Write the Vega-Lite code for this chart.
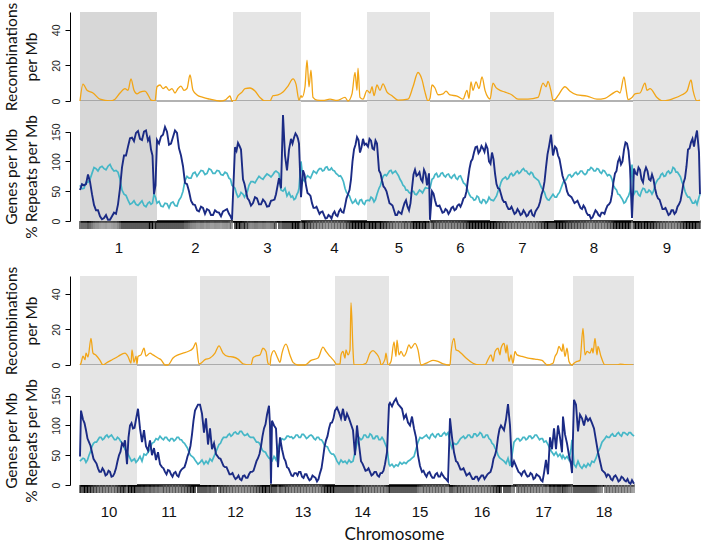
{
"$schema": "https://vega.github.io/schema/vega-lite/v6.json",
"padding": {"left": 4, "top": 2, "right": 8, "bottom": 4},
"background": "white",
"spacing": 0,
"bounds": "flush",
"resolve": {"scale": {"x": "independent", "y": "independent", "color": "independent"}},
"config": {
 "view": {"stroke": null},
 "axis": {"grid": false, "labelFont": "Liberation Sans", "titleFont": "Lato", "titleFontWeight": "normal", "labelColor": "#222", "titleColor": "#111", "domainColor": "#000", "tickColor": "#000"}
},
"datasets": {
"chrA": [{"chr":1,"p":0,"p2":38.5},{"chr":2,"p":38.5,"p2":76.5},{"chr":3,"p":76.5,"p2":110.5},{"chr":4,"p":110.5,"p2":143.5},{"chr":5,"p":143.5,"p2":175},{"chr":6,"p":175,"p2":205},{"chr":7,"p":205,"p2":237},{"chr":8,"p":237,"p2":276.5},{"chr":9,"p":276.5,"p2":310}],
"chrB": [{"chr":10,"p":0,"p2":28.5},{"chr":11,"p":28.5,"p2":60},{"chr":12,"p":60,"p2":95},{"chr":13,"p":95,"p2":127.5},{"chr":14,"p":127.5,"p2":154.5},{"chr":15,"p":154.5,"p2":185},{"chr":16,"p":185,"p2":216.5},{"chr":17,"p":216.5,"p2":246.5},{"chr":18,"p":246.5,"p2":277}],
"genesA": [
{"p":0,"g":52,"r":60},{"p":2,"g":60,"r":55},{"p":4,"g":78,"r":65},{"p":6,"g":45,"r":80},{"p":8,"g":18,"r":88},{"p":10,"g":8,"r":90},{"p":12,"g":5,"r":88},{"p":14,"g":2,"r":92},{"p":16,"g":8,"r":88},{"p":18,"g":12,"r":85},{"p":20,"g":55,"r":70},{"p":22,"g":110,"r":45},{"p":24,"g":125,"r":35},{"p":26,"g":140,"r":30},{"p":28,"g":148,"r":28},{"p":30,"g":138,"r":30},{"p":32,"g":150,"r":26},{"p":34,"g":135,"r":30},{"p":35.5,"g":120,"r":28},{"p":37,"g":45,"r":45},
{"p":38.5,"g":136,"r":30},{"p":40.5,"g":142,"r":25},{"p":42.5,"g":158,"r":30},{"p":44.5,"g":128,"r":22},{"p":46.5,"g":141,"r":32},{"p":48.5,"g":148,"r":25},{"p":50.5,"g":110,"r":40},{"p":52.5,"g":64,"r":68},{"p":54.5,"g":50,"r":72},{"p":56.5,"g":28,"r":80},{"p":58.5,"g":18,"r":75},{"p":60.5,"g":24,"r":85},{"p":62.5,"g":12,"r":78},{"p":64.5,"g":18,"r":88},{"p":66.5,"g":10,"r":80},{"p":68.5,"g":15,"r":85},{"p":70.5,"g":8,"r":78},{"p":72.5,"g":18,"r":82},{"p":74.5,"g":12,"r":72},{"p":76,"g":2,"r":60},
{"p":77.5,"g":124,"r":55},{"p":79,"g":131,"r":40},{"p":80.5,"g":120,"r":48},{"p":81.5,"g":70,"r":45},{"p":83,"g":50,"r":45},{"p":84.5,"g":35,"r":60},{"p":86.5,"g":30,"r":66},{"p":88.5,"g":38,"r":70},{"p":90.5,"g":28,"r":72},{"p":92.5,"g":32,"r":75},{"p":94.5,"g":25,"r":77},{"p":96.5,"g":35,"r":78},{"p":98,"g":45,"r":84},{"p":99.5,"g":72,"r":80},{"p":100.5,"g":55,"r":52},{"p":101.5,"g":178,"r":50},{"p":102.5,"g":110,"r":55},{"p":103.5,"g":85,"r":42},{"p":104.5,"g":120,"r":48},{"p":105.5,"g":138,"r":40},{"p":107,"g":140,"r":36},{"p":108.5,"g":143,"r":45},{"p":109.5,"g":130,"r":55},{"p":110.5,"g":40,"r":100},
{"p":111.5,"g":85,"r":70},{"p":113,"g":60,"r":72},{"p":114.5,"g":45,"r":74},{"p":116,"g":30,"r":78},{"p":117.5,"g":22,"r":82},{"p":119,"g":18,"r":85},{"p":120.5,"g":15,"r":88},{"p":122,"g":10,"r":85},{"p":123.5,"g":5,"r":91},{"p":125,"g":8,"r":86},{"p":126.5,"g":12,"r":85},{"p":128,"g":10,"r":80},{"p":129.5,"g":16,"r":75},{"p":131,"g":15,"r":72},{"p":132.5,"g":25,"r":55},{"p":134,"g":45,"r":45},{"p":135.5,"g":70,"r":35},{"p":137,"g":120,"r":32},{"p":138.5,"g":141,"r":30},{"p":140,"g":115,"r":35},{"p":141.5,"g":138,"r":30},{"p":143,"g":130,"r":34},
{"p":144,"g":125,"r":35},{"p":145.5,"g":135,"r":40},{"p":147,"g":120,"r":32},{"p":148.5,"g":130,"r":45},{"p":149.5,"g":85,"r":55},{"p":151,"g":68,"r":70},{"p":152.5,"g":55,"r":78},{"p":154,"g":40,"r":80},{"p":155.5,"g":28,"r":85},{"p":157,"g":18,"r":82},{"p":158.5,"g":10,"r":80},{"p":160,"g":14,"r":70},{"p":161.5,"g":22,"r":60},{"p":163,"g":35,"r":52},{"p":164.5,"g":18,"r":48},{"p":166,"g":55,"r":50},{"p":167.5,"g":86,"r":45},{"p":169,"g":78,"r":48},{"p":170.5,"g":70,"r":50},{"p":172,"g":86,"r":52},{"p":173.5,"g":60,"r":55},{"p":174.5,"g":80,"r":55},{"p":175,"g":2,"r":55},
{"p":176,"g":50,"r":70},{"p":177.5,"g":35,"r":78},{"p":179,"g":25,"r":74},{"p":180.5,"g":20,"r":80},{"p":182,"g":15,"r":76},{"p":183.5,"g":18,"r":78},{"p":185,"g":16,"r":74},{"p":186.5,"g":24,"r":76},{"p":188,"g":20,"r":72},{"p":189.5,"g":28,"r":75},{"p":191,"g":30,"r":70},{"p":192.5,"g":40,"r":62},{"p":194,"g":70,"r":50},{"p":195.5,"g":100,"r":40},{"p":197,"g":115,"r":35},{"p":198.5,"g":125,"r":42},{"p":200,"g":118,"r":32},{"p":201.5,"g":122,"r":36},{"p":203,"g":128,"r":30},{"p":204.5,"g":100,"r":40},
{"p":206,"g":115,"r":35},{"p":207.5,"g":80,"r":38},{"p":209,"g":55,"r":50},{"p":210.5,"g":45,"r":65},{"p":212,"g":32,"r":72},{"p":213.5,"g":25,"r":70},{"p":215,"g":20,"r":78},{"p":216.5,"g":18,"r":76},{"p":218,"g":14,"r":82},{"p":219.5,"g":16,"r":80},{"p":221,"g":12,"r":86},{"p":222.5,"g":14,"r":84},{"p":224,"g":10,"r":80},{"p":225.5,"g":18,"r":82},{"p":227,"g":8,"r":74},{"p":228.5,"g":20,"r":70},{"p":230,"g":32,"r":62},{"p":231.5,"g":52,"r":52},{"p":233,"g":90,"r":40},{"p":234.5,"g":125,"r":35},{"p":235.5,"g":145,"r":40},{"p":236.5,"g":110,"r":45},
{"p":237.5,"g":125,"r":40},{"p":239,"g":110,"r":45},{"p":240.5,"g":90,"r":55},{"p":242,"g":68,"r":68},{"p":243.5,"g":50,"r":72},{"p":245,"g":42,"r":78},{"p":246.5,"g":35,"r":76},{"p":248,"g":32,"r":82},{"p":249.5,"g":28,"r":80},{"p":251,"g":20,"r":84},{"p":252.5,"g":22,"r":78},{"p":254,"g":10,"r":86},{"p":255.5,"g":4,"r":90},{"p":257,"g":12,"r":84},{"p":258.5,"g":15,"r":88},{"p":260,"g":8,"r":82},{"p":261.5,"g":14,"r":85},{"p":263,"g":20,"r":80},{"p":264.5,"g":28,"r":78},{"p":266,"g":45,"r":70},{"p":267.5,"g":80,"r":55},{"p":269,"g":100,"r":45},{"p":270.5,"g":95,"r":40},{"p":272,"g":120,"r":30},{"p":273.5,"g":130,"r":38},{"p":275,"g":90,"r":50},{"p":276,"g":5,"r":95},
{"p":277,"g":88,"r":45},{"p":278.5,"g":78,"r":50},{"p":280,"g":86,"r":42},{"p":281.5,"g":65,"r":55},{"p":283,"g":90,"r":48},{"p":284.5,"g":70,"r":52},{"p":286,"g":78,"r":45},{"p":287.5,"g":55,"r":60},{"p":289,"g":38,"r":70},{"p":290.5,"g":28,"r":78},{"p":292,"g":20,"r":75},{"p":293.5,"g":16,"r":82},{"p":295,"g":12,"r":80},{"p":296.5,"g":18,"r":90},{"p":298,"g":15,"r":82},{"p":299.5,"g":28,"r":78},{"p":301,"g":48,"r":65},{"p":302.5,"g":72,"r":50},{"p":304,"g":120,"r":40},{"p":305.5,"g":132,"r":35},{"p":307,"g":125,"r":30},{"p":308.5,"g":152,"r":28},{"p":309.5,"g":115,"r":40},{"p":310,"g":45,"r":45},
{"p":1,"g":62,"r":54},{"p":3,"g":62,"r":65},{"p":5,"g":66,"r":70},{"p":7,"g":27,"r":90},{"p":9,"g":18,"r":84},{"p":11,"g":3,"r":92},{"p":13,"g":10,"r":86},{"p":15,"g":2,"r":95},{"p":17,"g":14,"r":84},{"p":19,"g":28,"r":82},{"p":21,"g":90,"r":52},{"p":23,"g":110,"r":43},{"p":25,"g":139,"r":28},{"p":27,"g":134,"r":34},{"p":29,"g":151,"r":26},{"p":31,"g":136,"r":34},{"p":33,"g":152,"r":24},{"p":34.75,"g":140,"r":32},{"p":36.25,"g":110,"r":30},{"p":37.75,"g":60,"r":40},
{"p":39.5,"g":130,"r":33},{"p":41.5,"g":145,"r":24},{"p":43.5,"g":150,"r":29},{"p":45.5,"g":130,"r":30},{"p":47.5,"g":152,"r":26},{"p":49.5,"g":122,"r":35},{"p":51.5,"g":92,"r":50},{"p":53.5,"g":62,"r":75},{"p":55.5,"g":34,"r":72},{"p":57.5,"g":27,"r":82},{"p":59.5,"g":16,"r":80},{"p":61.5,"g":22,"r":84},{"p":63.5,"g":20,"r":80},{"p":65.5,"g":10,"r":86},{"p":67.5,"g":18,"r":80},{"p":69.5,"g":14,"r":84},{"p":71.5,"g":16,"r":77},{"p":73.5,"g":20,"r":80},{"p":75.25,"g":8,"r":70},
{"p":78.25,"g":118,"r":46},{"p":79.75,"g":126,"r":42},{"p":82.25,"g":62,"r":40},{"p":83.75,"g":38,"r":50},{"p":85.5,"g":26,"r":66},{"p":87.5,"g":40,"r":64},{"p":89.5,"g":28,"r":75},{"p":91.5,"g":36,"r":70},{"p":93.5,"g":24,"r":79},{"p":95.5,"g":34,"r":74},{"p":97.25,"g":36,"r":82},{"p":106.25,"g":130,"r":42},{"p":107.75,"g":147,"r":38},{"p":109,"g":138,"r":48},
{"p":112.25,"g":78,"r":67},{"p":113.75,"g":47,"r":76},{"p":115.25,"g":42,"r":72},{"p":116.75,"g":22,"r":84},{"p":118.25,"g":24,"r":80},{"p":119.75,"g":12,"r":88},{"p":121.25,"g":16,"r":84},{"p":122.75,"g":4,"r":90},{"p":124.25,"g":10,"r":86},{"p":125.75,"g":4,"r":89},{"p":127.25,"g":16,"r":84},{"p":128.75,"g":8,"r":78},{"p":130.25,"g":20,"r":76},{"p":131.75,"g":14,"r":66},{"p":133.25,"g":38,"r":48},{"p":134.75,"g":52,"r":42},{"p":136.25,"g":100,"r":30},{"p":137.75,"g":128,"r":36},{"p":139.25,"g":136,"r":28},{"p":140.75,"g":124,"r":36},{"p":142.25,"g":128,"r":28},
{"p":144.75,"g":138,"r":34},{"p":146.25,"g":122,"r":38},{"p":147.75,"g":135,"r":36},{"p":150.25,"g":80,"r":60},{"p":151.75,"g":58,"r":76},{"p":153.25,"g":50,"r":76},{"p":154.75,"g":30,"r":84},{"p":156.25,"g":26,"r":80},{"p":157.75,"g":10,"r":84},{"p":159.25,"g":16,"r":76},{"p":160.75,"g":12,"r":66},{"p":162.25,"g":30,"r":58},{"p":163.75,"g":24,"r":52},{"p":165.25,"g":30,"r":46},{"p":166.75,"g":78,"r":50},{"p":168.25,"g":76,"r":44},{"p":169.75,"g":82,"r":52},{"p":171.25,"g":66,"r":47},{"p":172.75,"g":80,"r":56},
{"p":176.75,"g":46,"r":72},{"p":178.25,"g":26,"r":80},{"p":179.75,"g":26,"r":75},{"p":181.25,"g":14,"r":81},{"p":182.75,"g":20,"r":74},{"p":184.25,"g":12,"r":79},{"p":185.75,"g":22,"r":72},{"p":187.25,"g":18,"r":78},{"p":188.75,"g":26,"r":70},{"p":190.25,"g":24,"r":76},{"p":191.75,"g":38,"r":64},{"p":193.25,"g":50,"r":58},{"p":194.75,"g":88,"r":44},{"p":196.25,"g":104,"r":39},{"p":197.75,"g":124,"r":36},{"p":199.25,"g":114,"r":40},{"p":200.75,"g":126,"r":30},{"p":202.25,"g":116,"r":35},{"p":203.75,"g":122,"r":33},
{"p":205.25,"g":96,"r":36},{"p":206.75,"g":104,"r":34},{"p":208.25,"g":62,"r":42},{"p":209.75,"g":54,"r":56},{"p":211.25,"g":36,"r":70},{"p":212.75,"g":32,"r":74},{"p":214.25,"g":20,"r":72},{"p":215.75,"g":24,"r":80},{"p":217.25,"g":12,"r":78},{"p":218.75,"g":20,"r":84},{"p":220.25,"g":10,"r":82},{"p":221.75,"g":18,"r":88},{"p":223.25,"g":8,"r":84},{"p":224.75,"g":16,"r":78},{"p":226.25,"g":10,"r":80},{"p":227.75,"g":16,"r":72},{"p":229.25,"g":24,"r":68},{"p":230.75,"g":44,"r":56},{"p":232.25,"g":66,"r":48},{"p":233.75,"g":112,"r":36},
{"p":238.25,"g":122,"r":40},{"p":239.75,"g":104,"r":48},{"p":241.25,"g":76,"r":62},{"p":242.75,"g":62,"r":68},{"p":244.25,"g":44,"r":77},{"p":245.75,"g":40,"r":74},{"p":247.25,"g":30,"r":80},{"p":248.75,"g":34,"r":78},{"p":250.25,"g":22,"r":84},{"p":251.75,"g":26,"r":80},{"p":253.25,"g":14,"r":80},{"p":254.75,"g":10,"r":86},{"p":256.25,"g":6,"r":88},{"p":257.75,"g":18,"r":84},{"p":259.25,"g":10,"r":87},{"p":260.75,"g":14,"r":80},{"p":262.25,"g":12,"r":84},{"p":263.75,"g":26,"r":76},{"p":265.25,"g":32,"r":76},{"p":266.75,"g":66,"r":60},{"p":268.25,"g":84,"r":52},{"p":269.75,"g":106,"r":44},{"p":271.25,"g":100,"r":36},{"p":272.75,"g":132,"r":32},{"p":274.25,"g":118,"r":42},
{"p":277.75,"g":80,"r":50},{"p":279.25,"g":90,"r":44},{"p":280.75,"g":70,"r":50},{"p":282.25,"g":82,"r":54},{"p":283.75,"g":84,"r":48},{"p":285.25,"g":68,"r":50},{"p":286.75,"g":70,"r":50},{"p":288.25,"g":44,"r":66},{"p":289.75,"g":36,"r":72},{"p":291.25,"g":20,"r":80},{"p":292.75,"g":22,"r":76},{"p":294.25,"g":10,"r":84},{"p":295.75,"g":18,"r":82},{"p":297.25,"g":12,"r":88},{"p":298.75,"g":24,"r":82},{"p":300.25,"g":34,"r":74},{"p":301.75,"g":64,"r":60},{"p":303.25,"g":92,"r":44},{"p":304.75,"g":122,"r":40},{"p":306.25,"g":138,"r":30},{"p":307.75,"g":140,"r":34}
],
"recA": [
{"p":0,"c":0},{"p":1.5,"c":9.5},{"p":3.5,"c":6},{"p":6.5,"c":4.5},{"p":10,"c":1},{"p":15,"c":0},{"p":17.5,"c":1},{"p":20,"c":4.5},{"p":22.5,"c":7},{"p":24,"c":6},{"p":25.5,"c":12.4},{"p":27,"c":6},{"p":28.5,"c":4},{"p":30,"c":5},{"p":32.5,"c":5.6},{"p":34,"c":3.5},{"p":35.5,"c":0.5},{"p":37.5,"c":0},
{"p":38.5,"c":8},{"p":40,"c":9},{"p":41.5,"c":7},{"p":43,"c":8},{"p":44.5,"c":6},{"p":46,"c":7},{"p":47.5,"c":4.5},{"p":49,"c":7},{"p":50.5,"c":8.4},{"p":52,"c":6},{"p":53.5,"c":7},{"p":55,"c":14.6},{"p":56.5,"c":6},{"p":58.5,"c":3.4},{"p":61.5,"c":2},{"p":65,"c":1},{"p":70,"c":0},{"p":72.5,"c":0.5},{"p":74,"c":2},{"p":75,"c":2.8},{"p":76,"c":0},
{"p":77.5,"c":0},{"p":79,"c":3},{"p":81,"c":5},{"p":82.5,"c":7},{"p":85,"c":7.3},{"p":87.5,"c":5.6},{"p":90,"c":2},{"p":92.5,"c":0},{"p":95,"c":0},{"p":96.5,"c":3},{"p":99,"c":3.4},{"p":101.5,"c":5},{"p":104,"c":8.4},{"p":106.5,"c":12.4},{"p":108,"c":9.5},{"p":109.5,"c":0.5},{"p":110.5,"c":3},
{"p":111,"c":2},{"p":112.5,"c":8},{"p":113.5,"c":23},{"p":114.5,"c":8},{"p":115.5,"c":17.4},{"p":116.5,"c":2},{"p":118.5,"c":0.5},{"p":121.5,"c":0.3},{"p":125,"c":1},{"p":128.5,"c":0.3},{"p":132.5,"c":2},{"p":134,"c":0},{"p":136,"c":4},{"p":137.5,"c":16},{"p":138.5,"c":6},{"p":139,"c":18.5},{"p":140,"c":2},{"p":141.5,"c":1},{"p":143.5,"c":6},
{"p":145,"c":4.5},{"p":146,"c":8},{"p":147,"c":3},{"p":148.5,"c":9},{"p":150,"c":6},{"p":151.5,"c":9.6},{"p":153.5,"c":5},{"p":156,"c":3},{"p":159,"c":0.5},{"p":164,"c":1},{"p":166.5,"c":8},{"p":169,"c":16},{"p":171,"c":12},{"p":172.5,"c":5},{"p":174,"c":0},
{"p":175,"c":1.5},{"p":176,"c":9},{"p":177.5,"c":7.3},{"p":179,"c":3.5},{"p":181.5,"c":4},{"p":183,"c":5.5},{"p":185,"c":3.4},{"p":188.5,"c":2.8},{"p":191.5,"c":1},{"p":193.5,"c":6},{"p":194.5,"c":1.5},{"p":195.5,"c":10.7},{"p":196.5,"c":6},{"p":198,"c":10.7},{"p":199.5,"c":7},{"p":201,"c":13.5},{"p":202.5,"c":6},{"p":204,"c":2},{"p":205,"c":1},
{"p":206.5,"c":10},{"p":208,"c":7.5},{"p":210,"c":6},{"p":212.5,"c":5},{"p":216,"c":3.4},{"p":219,"c":1},{"p":224,"c":1},{"p":229,"c":2},{"p":231.5,"c":10},{"p":233,"c":8},{"p":234,"c":11},{"p":235.5,"c":5.5},{"p":236.5,"c":0.5},
{"p":237.5,"c":0.8},{"p":239,"c":3},{"p":242.5,"c":8},{"p":245,"c":5.5},{"p":248.5,"c":3.4},{"p":253.5,"c":2.8},{"p":258.5,"c":1},{"p":262.5,"c":1.5},{"p":266,"c":4},{"p":268.5,"c":5.5},{"p":270,"c":4.5},{"p":272,"c":13.5},{"p":273,"c":7},{"p":274,"c":0.8},{"p":276,"c":2},
{"p":277.5,"c":4},{"p":280,"c":4.5},{"p":282.5,"c":10},{"p":283.5,"c":6},{"p":285,"c":7},{"p":288.5,"c":2},{"p":291.5,"c":0},{"p":296.5,"c":1.3},{"p":301,"c":3.5},{"p":303.5,"c":5.5},{"p":305.5,"c":11.8},{"p":306.5,"c":6},{"p":308.5,"c":0},{"p":310,"c":0.5}
],
"genesB": [
{"p":0,"g":48,"r":40},{"p":0.5,"g":125,"r":42},{"p":1.5,"g":110,"r":45},{"p":3,"g":92,"r":38},{"p":4.5,"g":72,"r":50},{"p":6,"g":55,"r":65},{"p":7.5,"g":40,"r":72},{"p":9,"g":28,"r":76},{"p":10.5,"g":22,"r":80},{"p":12,"g":24,"r":78},{"p":13.5,"g":18,"r":84},{"p":15,"g":22,"r":82},{"p":16.5,"g":15,"r":80},{"p":18,"g":28,"r":76},{"p":19.5,"g":50,"r":78},{"p":21,"g":70,"r":70},{"p":22.5,"g":75,"r":60},{"p":23.5,"g":35,"r":55},{"p":25,"g":100,"r":45},{"p":26.5,"g":95,"r":42},{"p":28,"g":110,"r":38},
{"p":29,"g":128,"r":42},{"p":30,"g":95,"r":48},{"p":31,"g":72,"r":40},{"p":32,"g":92,"r":52},{"p":33,"g":65,"r":50},{"p":34,"g":58,"r":55},{"p":35,"g":75,"r":60},{"p":36,"g":50,"r":70},{"p":37,"g":62,"r":72},{"p":38,"g":42,"r":78},{"p":39,"g":55,"r":76},{"p":40,"g":35,"r":82},{"p":41,"g":30,"r":78},{"p":42.5,"g":22,"r":80},{"p":44,"g":25,"r":76},{"p":45.5,"g":18,"r":78},{"p":47,"g":20,"r":74},{"p":48.5,"g":16,"r":80},{"p":50,"g":22,"r":76},{"p":51.5,"g":28,"r":72},{"p":53,"g":38,"r":66},{"p":54.5,"g":55,"r":55},{"p":56,"g":85,"r":48},{"p":57.5,"g":125,"r":42},{"p":59,"g":135,"r":35},
{"p":60,"g":135,"r":38},{"p":61,"g":120,"r":42},{"p":62,"g":88,"r":35},{"p":63,"g":112,"r":40},{"p":64,"g":68,"r":36},{"p":65,"g":95,"r":44},{"p":66,"g":60,"r":40},{"p":67,"g":70,"r":48},{"p":68,"g":52,"r":56},{"p":69.5,"g":45,"r":68},{"p":71,"g":38,"r":76},{"p":72.5,"g":30,"r":80},{"p":74,"g":24,"r":84},{"p":75.5,"g":18,"r":82},{"p":77,"g":14,"r":88},{"p":78.5,"g":12,"r":86},{"p":80,"g":10,"r":90},{"p":81.5,"g":15,"r":86},{"p":83,"g":12,"r":84},{"p":84.5,"g":18,"r":82},{"p":86,"g":22,"r":80},{"p":87.5,"g":32,"r":76},{"p":89,"g":45,"r":72},{"p":90.5,"g":65,"r":64},{"p":92,"g":95,"r":56},{"p":93.5,"g":118,"r":50},{"p":94.5,"g":133,"r":45},
{"p":95,"g":100,"r":45},{"p":95.5,"g":2,"r":40},{"p":96,"g":108,"r":40},{"p":97,"g":100,"r":48},{"p":98,"g":95,"r":42},{"p":99,"g":30,"r":60},{"p":100,"g":80,"r":72},{"p":101,"g":60,"r":78},{"p":102,"g":45,"r":76},{"p":103.5,"g":30,"r":82},{"p":105,"g":22,"r":80},{"p":106.5,"g":15,"r":78},{"p":108,"g":20,"r":84},{"p":109.5,"g":22,"r":80},{"p":111,"g":14,"r":85},{"p":112.5,"g":18,"r":82},{"p":114,"g":12,"r":80},{"p":115.5,"g":10,"r":84},{"p":117,"g":14,"r":78},{"p":118.5,"g":6,"r":80},{"p":120,"g":20,"r":76},{"p":121.5,"g":45,"r":72},{"p":123,"g":75,"r":65},{"p":124.5,"g":95,"r":58},{"p":126,"g":105,"r":52},{"p":127.5,"g":125,"r":48},
{"p":128.5,"g":130,"r":40},{"p":129.5,"g":122,"r":35},{"p":130.5,"g":112,"r":42},{"p":131.5,"g":128,"r":38},{"p":132.5,"g":108,"r":40},{"p":133.5,"g":120,"r":36},{"p":134.5,"g":112,"r":42},{"p":135.5,"g":102,"r":38},{"p":136.5,"g":92,"r":40},{"p":137.5,"g":50,"r":55},{"p":138.5,"g":100,"r":70},{"p":139.5,"g":68,"r":80},{"p":140.5,"g":40,"r":76},{"p":142,"g":30,"r":84},{"p":143.5,"g":25,"r":80},{"p":145,"g":22,"r":86},{"p":146.5,"g":18,"r":78},{"p":148,"g":22,"r":82},{"p":149.5,"g":14,"r":76},{"p":151,"g":20,"r":80},{"p":152.5,"g":35,"r":70},{"p":153.5,"g":55,"r":62},{"p":154.5,"g":135,"r":35},
{"p":155,"g":138,"r":32},{"p":156,"g":132,"r":35},{"p":157,"g":140,"r":30},{"p":158,"g":145,"r":34},{"p":159,"g":136,"r":32},{"p":160,"g":132,"r":38},{"p":161,"g":128,"r":35},{"p":162,"g":112,"r":38},{"p":163,"g":118,"r":36},{"p":164,"g":105,"r":40},{"p":165,"g":100,"r":42},{"p":166,"g":115,"r":45},{"p":167,"g":95,"r":48},{"p":168,"g":80,"r":60},{"p":169,"g":50,"r":72},{"p":170,"g":32,"r":80},{"p":171,"g":22,"r":78},{"p":172.5,"g":18,"r":82},{"p":174,"g":20,"r":80},{"p":175.5,"g":16,"r":84},{"p":177,"g":12,"r":82},{"p":178.5,"g":20,"r":85},{"p":180,"g":14,"r":82},{"p":181.5,"g":16,"r":86},{"p":183,"g":10,"r":84},{"p":184,"g":6,"r":88},
{"p":185,"g":112,"r":72},{"p":186,"g":80,"r":62},{"p":187,"g":55,"r":70},{"p":188,"g":40,"r":68},{"p":189.5,"g":32,"r":74},{"p":191,"g":26,"r":80},{"p":192.5,"g":22,"r":78},{"p":194,"g":18,"r":84},{"p":195.5,"g":15,"r":80},{"p":197,"g":10,"r":86},{"p":198.5,"g":14,"r":82},{"p":200,"g":12,"r":88},{"p":201.5,"g":16,"r":80},{"p":203,"g":14,"r":84},{"p":204.5,"g":20,"r":78},{"p":206,"g":30,"r":70},{"p":207.5,"g":50,"r":62},{"p":209,"g":80,"r":50},{"p":210.5,"g":100,"r":44},{"p":212,"g":92,"r":40},{"p":213,"g":110,"r":36},{"p":214,"g":136,"r":45},{"p":215,"g":100,"r":32},{"p":216,"g":30,"r":50},
{"p":217,"g":40,"r":72},{"p":218.5,"g":28,"r":78},{"p":220,"g":20,"r":74},{"p":221.5,"g":22,"r":80},{"p":223,"g":18,"r":76},{"p":224.5,"g":15,"r":82},{"p":226,"g":18,"r":78},{"p":227.5,"g":12,"r":84},{"p":229,"g":16,"r":80},{"p":230.5,"g":8,"r":78},{"p":232,"g":20,"r":72},{"p":233,"g":42,"r":74},{"p":234,"g":18,"r":68},{"p":235,"g":80,"r":60},{"p":236,"g":60,"r":55},{"p":237,"g":95,"r":50},{"p":238,"g":60,"r":55},{"p":239,"g":100,"r":48},{"p":240,"g":80,"r":52},{"p":241,"g":55,"r":45},{"p":241.5,"g":115,"r":50},{"p":242.5,"g":85,"r":44},{"p":243.5,"g":70,"r":48},{"p":244.5,"g":50,"r":42},{"p":245.5,"g":35,"r":60},{"p":246,"g":20,"r":76},
{"p":247,"g":143,"r":35},{"p":248,"g":135,"r":30},{"p":249,"g":90,"r":40},{"p":250,"g":118,"r":32},{"p":251,"g":112,"r":28},{"p":252,"g":100,"r":34},{"p":253,"g":115,"r":30},{"p":254,"g":108,"r":36},{"p":255,"g":112,"r":32},{"p":256,"g":104,"r":40},{"p":257,"g":95,"r":38},{"p":258,"g":75,"r":45},{"p":259,"g":55,"r":55},{"p":260,"g":40,"r":62},{"p":261,"g":25,"r":72},{"p":262.5,"g":20,"r":78},{"p":264,"g":18,"r":80},{"p":265.5,"g":10,"r":84},{"p":267,"g":14,"r":82},{"p":268.5,"g":12,"r":86},{"p":270,"g":8,"r":84},{"p":271.5,"g":12,"r":88},{"p":273,"g":6,"r":86},{"p":274.5,"g":4,"r":88},{"p":276,"g":8,"r":85},{"p":277,"g":2,"r":82},
{"p":2.25,"g":104,"r":44},{"p":3.75,"g":78,"r":42},{"p":5.25,"g":66,"r":56},{"p":6.75,"g":44,"r":70},{"p":8.25,"g":36,"r":72},{"p":9.75,"g":22,"r":80},{"p":11.25,"g":28,"r":76},{"p":12.75,"g":16,"r":82},{"p":14.25,"g":24,"r":80},{"p":15.75,"g":14,"r":84},{"p":17.25,"g":20,"r":76},{"p":18.75,"g":40,"r":80},{"p":20.25,"g":56,"r":74},{"p":21.75,"g":66,"r":66},{"p":24.25,"g":80,"r":50},{"p":25.75,"g":104,"r":40},{"p":27.25,"g":96,"r":44},
{"p":41.75,"g":28,"r":76},{"p":43.25,"g":18,"r":80},{"p":44.75,"g":24,"r":74},{"p":46.25,"g":14,"r":78},{"p":47.75,"g":22,"r":76},{"p":49.25,"g":14,"r":80},{"p":50.75,"g":26,"r":76},{"p":52.25,"g":30,"r":70},{"p":53.75,"g":48,"r":62},{"p":55.25,"g":66,"r":50},{"p":56.75,"g":108,"r":46},
{"p":70.25,"g":44,"r":70},{"p":71.75,"g":32,"r":80},{"p":73.25,"g":30,"r":80},{"p":74.75,"g":18,"r":86},{"p":76.25,"g":20,"r":84},{"p":77.75,"g":10,"r":89},{"p":79.25,"g":16,"r":86},{"p":80.75,"g":8,"r":90},{"p":82.25,"g":16,"r":83},{"p":83.75,"g":12,"r":86},{"p":85.25,"g":22,"r":80},{"p":86.75,"g":24,"r":80},{"p":88.25,"g":40,"r":72},{"p":89.75,"g":52,"r":70},{"p":91.25,"g":82,"r":58},{"p":92.75,"g":102,"r":55},
{"p":102.75,"g":40,"r":78},{"p":104.25,"g":28,"r":82},{"p":105.75,"g":16,"r":81},{"p":107.25,"g":20,"r":80},{"p":108.75,"g":16,"r":84},{"p":110.25,"g":22,"r":80},{"p":111.75,"g":12,"r":85},{"p":113.25,"g":18,"r":78},{"p":114.75,"g":8,"r":83},{"p":116.25,"g":16,"r":82},{"p":117.75,"g":12,"r":76},{"p":119.25,"g":10,"r":80},{"p":120.75,"g":28,"r":76},{"p":122.25,"g":64,"r":66},{"p":123.75,"g":82,"r":64},{"p":125.25,"g":104,"r":54},{"p":126.75,"g":112,"r":52},
{"p":141.25,"g":36,"r":78},{"p":142.75,"g":24,"r":84},{"p":144.25,"g":28,"r":80},{"p":145.75,"g":16,"r":84},{"p":147.25,"g":22,"r":78},{"p":148.75,"g":16,"r":82},{"p":150.25,"g":20,"r":76},{"p":151.75,"g":24,"r":76},
{"p":171.75,"g":24,"r":80},{"p":173.25,"g":14,"r":84},{"p":174.75,"g":22,"r":78},{"p":176.25,"g":12,"r":86},{"p":177.75,"g":18,"r":80},{"p":179.25,"g":14,"r":86},{"p":180.75,"g":20,"r":82},{"p":182.25,"g":12,"r":88},
{"p":188.75,"g":38,"r":70},{"p":190.25,"g":26,"r":78},{"p":191.75,"g":28,"r":82},{"p":193.25,"g":16,"r":80},{"p":194.75,"g":20,"r":84},{"p":196.25,"g":10,"r":80},{"p":197.75,"g":14,"r":86},{"p":199.25,"g":8,"r":84},{"p":200.75,"g":16,"r":86},{"p":202.25,"g":10,"r":80},{"p":203.75,"g":18,"r":84},{"p":205.25,"g":22,"r":76},{"p":206.75,"g":44,"r":68},{"p":208.25,"g":60,"r":58},{"p":209.75,"g":94,"r":46},
{"p":219.25,"g":22,"r":78},{"p":220.75,"g":16,"r":76},{"p":222.25,"g":24,"r":80},{"p":223.75,"g":14,"r":78},{"p":225.25,"g":20,"r":82},{"p":226.75,"g":10,"r":80},{"p":228.25,"g":18,"r":84},{"p":229.75,"g":14,"r":76},{"p":231.25,"g":6,"r":78},
{"p":263.25,"g":14,"r":82},{"p":264.75,"g":16,"r":80},{"p":266.25,"g":8,"r":86},{"p":267.75,"g":16,"r":82},{"p":269.25,"g":6,"r":88},{"p":270.75,"g":14,"r":82},{"p":272.25,"g":8,"r":88},{"p":273.75,"g":10,"r":84},{"p":275.25,"g":2,"r":88}
],
"recB": [
{"p":0,"c":0},{"p":0.5,"c":1},{"p":1.5,"c":5},{"p":2.5,"c":3},{"p":3,"c":6.7},{"p":4,"c":4.5},{"p":5.5,"c":15},{"p":6.5,"c":6.7},{"p":8,"c":5.5},{"p":10,"c":2.6},{"p":11.5,"c":0},{"p":13,"c":1},{"p":15.5,"c":2.6},{"p":19,"c":4.8},{"p":22.5,"c":6.7},{"p":24,"c":4.8},{"p":25.5,"c":1},{"p":26,"c":8.5},{"p":27,"c":1.5},{"p":28,"c":5},{"p":28.5,"c":0.5},
{"p":29,"c":4.8},{"p":30.5,"c":5.7},{"p":32,"c":9.4},{"p":33,"c":5},{"p":35,"c":6.7},{"p":36.5,"c":5.7},{"p":39,"c":3.9},{"p":40.5,"c":3},{"p":42.5,"c":0},{"p":44,"c":0},{"p":46.5,"c":3.9},{"p":49,"c":5.7},{"p":51.5,"c":6.7},{"p":54,"c":7.6},{"p":56.5,"c":9.4},{"p":58,"c":12.5},{"p":59.5,"c":0.5},
{"p":60.5,"c":1},{"p":62.5,"c":3},{"p":65,"c":3.9},{"p":67.5,"c":6.7},{"p":69.5,"c":10.7},{"p":71.5,"c":6.7},{"p":74,"c":4.8},{"p":76.5,"c":4.5},{"p":79,"c":3.3},{"p":81.5,"c":0.7},{"p":85.5,"c":0},{"p":86.5,"c":4},{"p":87.5,"c":4.8},{"p":90,"c":5.7},{"p":91.5,"c":9.4},{"p":93,"c":7.6},{"p":94,"c":1},{"p":95,"c":0},
{"p":95.5,"c":4.8},{"p":97,"c":8.1},{"p":98.5,"c":4.8},{"p":100,"c":1.5},{"p":101,"c":6.7},{"p":103,"c":11.7},{"p":105,"c":5.5},{"p":106.5,"c":1.5},{"p":109,"c":0},{"p":112.5,"c":0},{"p":115.5,"c":2.6},{"p":119,"c":3.9},{"p":121.5,"c":10},{"p":123,"c":7.6},{"p":125,"c":4.8},{"p":127.5,"c":1.5},
{"p":128,"c":0.5},{"p":130,"c":0.5},{"p":130.5,"c":5.7},{"p":131.5,"c":7.6},{"p":132.5,"c":3.9},{"p":133,"c":8.5},{"p":134,"c":5.7},{"p":135,"c":8.5},{"p":135.5,"c":35},{"p":136.5,"c":8.5},{"p":137,"c":0},{"p":140,"c":0},{"p":143,"c":1},{"p":145,"c":6.7},{"p":146.5,"c":8.1},{"p":148,"c":6.7},{"p":150,"c":2.6},{"p":150.5,"c":0},{"p":152.5,"c":3.3},{"p":153,"c":6.7},{"p":154,"c":0},
{"p":155.5,"c":2},{"p":157,"c":13},{"p":158,"c":4.8},{"p":158.5,"c":14},{"p":159.5,"c":5.7},{"p":160.5,"c":7.6},{"p":162,"c":4.8},{"p":163,"c":6.7},{"p":164.5,"c":11.3},{"p":165.5,"c":9.4},{"p":167.5,"c":12.2},{"p":169,"c":8.5},{"p":170.5,"c":0},{"p":174,"c":1.5},{"p":176.5,"c":2.6},{"p":179,"c":2},{"p":181.5,"c":0.7},{"p":184,"c":0},
{"p":185,"c":0},{"p":185.5,"c":6.7},{"p":187,"c":15},{"p":188,"c":8.5},{"p":189,"c":8.1},{"p":190.5,"c":6.7},{"p":193,"c":3.9},{"p":196.5,"c":1},{"p":200,"c":0},{"p":202.5,"c":0},{"p":204,"c":3},{"p":205.5,"c":5.7},{"p":206.5,"c":2},{"p":207.5,"c":7.6},{"p":209,"c":9.4},{"p":210,"c":5.7},{"p":210.5,"c":9.4},{"p":212,"c":12.2},{"p":213,"c":6.7},{"p":213.5,"c":11.3},{"p":214.5,"c":2},{"p":215.5,"c":5.7},{"p":216.5,"c":1},
{"p":217.5,"c":7.6},{"p":218.5,"c":5.7},{"p":221,"c":4.8},{"p":224,"c":3.9},{"p":227.5,"c":3.3},{"p":231,"c":2.6},{"p":232.5,"c":1},{"p":233.5,"c":0},{"p":236.5,"c":1},{"p":237.5,"c":4.8},{"p":238.5,"c":6.7},{"p":239.5,"c":10.4},{"p":241,"c":7.6},{"p":241.5,"c":11.9},{"p":242.5,"c":4.8},{"p":243.5,"c":9.4},{"p":244.5,"c":2},{"p":246,"c":0},
{"p":247,"c":1},{"p":248.5,"c":2},{"p":250,"c":2.6},{"p":251.5,"c":20.5},{"p":252.5,"c":5.7},{"p":253.5,"c":7.6},{"p":255,"c":6.7},{"p":256,"c":9.4},{"p":256.5,"c":6.7},{"p":257.5,"c":15},{"p":258.5,"c":5.7},{"p":259,"c":10.4},{"p":260.5,"c":4.8},{"p":262.5,"c":0},{"p":268.5,"c":0},{"p":270,"c":0.5},{"p":272.5,"c":0.2},{"p":276.5,"c":0}
]
},
"vconcat": [
{
 "width": 620, "height": 89,
 "layer": [
  {"data": {"name": "chrA"}, "transform": [{"filter": "datum.chr % 2 === 1"}], "mark": {"type": "rect", "strokeWidth": 0},
   "encoding": {"x": {"field": "p", "type": "quantitative", "scale": {"domain": [0, 310], "nice": false, "zero": false}, "axis": null}, "x2": {"field": "p2"},
    "fill": {"condition": {"test": "datum.chr === 1", "value": "#d7d7d7"}, "value": "#e5e5e5"}}},
  {"data": {"values": [{}]}, "mark": {"type": "rule", "color": "#999999", "strokeWidth": 1.5}, "encoding": {"y": {"datum": 0, "type": "quantitative"}}},
  {"data": {"name": "recA"}, "mark": {"type": "line", "color": "#F2A516", "strokeWidth": 1.3, "interpolate": "monotone"},
   "encoding": {"x": {"field": "p", "type": "quantitative", "scale": {"domain": [0, 310], "nice": false, "zero": false}, "axis": null},
    "y": {"field": "c", "type": "quantitative", "scale": {"domain": [0, 50], "nice": false},
     "axis": {"title": ["Recombinations", "per Mb"], "values": [0, 10, 20, 30, 40, 50], "labelExpr": "datum.value % 20 === 0 ? datum.label : ''", "offset": 10, "tickSize": 5, "labelAngle": 270, "labelAlign": "center", "labelBaseline": "bottom", "labelPadding": 4, "labelFontSize": 10.5, "titleFontSize": 15.5, "titleLineHeight": 20, "titlePadding": 12, "labelOverlap": false}}}}
 ]
},
{
 "width": 620, "height": 120,
 "layer": [
  {"data": {"name": "chrA"}, "transform": [{"filter": "datum.chr % 2 === 1"}], "mark": {"type": "rect", "strokeWidth": 0},
   "encoding": {"x": {"field": "p", "type": "quantitative", "scale": {"domain": [0, 310], "nice": false, "zero": false}, "axis": {"title": null, "domain": true, "domainWidth": 2.5, "domainColor": "#000", "ticks": false, "labels": false}}, "x2": {"field": "p2"},
    "fill": {"condition": {"test": "datum.chr === 1", "value": "#d7d7d7"}, "value": "#e5e5e5"}}},
  {"data": {"name": "genesA"}, "mark": {"type": "line", "color": "#45B7C7", "strokeWidth": 1.7},
   "encoding": {"x": {"field": "p", "type": "quantitative", "scale": {"domain": [0, 310], "nice": false, "zero": false}, "axis": {"title": null, "domain": true, "domainWidth": 2.5, "domainColor": "#000", "ticks": false, "labels": false}},
    "y": {"field": "r", "type": "quantitative", "scale": {"domain": [0, 150], "range": [120, 30.7], "nice": false},
     "axis": {"title": ["Genes per Mb", "% Repeats per Mb"], "values": [0, 50, 100, 150], "offset": 10, "tickSize": 5, "labelAngle": 270, "labelAlign": "center", "labelBaseline": "bottom", "labelPadding": 4, "labelFontSize": 10.5, "titleFontSize": 15.5, "titleLineHeight": 20, "titlePadding": 12, "labelOverlap": false}}}},
  {"data": {"name": "genesA"}, "mark": {"type": "line", "color": "#1B2B85", "strokeWidth": 1.9},
   "encoding": {"x": {"field": "p", "type": "quantitative", "scale": {"domain": [0, 310], "nice": false, "zero": false}, "axis": {"title": null, "domain": true, "domainWidth": 2.5, "domainColor": "#000", "ticks": false, "labels": false}},
    "y": {"field": "g", "type": "quantitative", "scale": {"domain": [0, 150], "range": [120, 30.7], "nice": false},
     "axis": {"title": ["Genes per Mb", "% Repeats per Mb"], "values": [0, 50, 100, 150], "offset": 10, "tickSize": 5, "labelAngle": 270, "labelAlign": "center", "labelBaseline": "bottom", "labelPadding": 4, "labelFontSize": 10.5, "titleFontSize": 15.5, "titleLineHeight": 20, "titlePadding": 12, "labelOverlap": false}}}}
 ]
},
{
 "width": 620, "height": 55,
 "data": {"name": "genesA"},
 "mark": {"type": "rule", "strokeWidth": 1.3},
 "encoding": {
  "x": {"field": "p", "type": "quantitative", "scale": {"domain": [0, 310], "nice": false, "zero": false},
   "axis": {"values": [19.25, 57.5, 93.5, 127, 159.25, 190, 221, 256.75, 293.25], "labelExpr": "indexof([19.25, 57.5, 93.5, 127, 159.25, 190, 221, 256.75, 293.25], datum.value) + 1", "offset": -47, "domain": false, "ticks": false, "labelPadding": 11, "labelFontSize": 15, "labelColor": "#111", "title": null, "labelOverlap": false, "labelFlush": false}},
  "y": {"datum": 0, "type": "quantitative", "scale": {"domain": [0, 55], "reverse": true, "nice": false}, "axis": null},
  "y2": {"datum": 8},
  "color": {"field": "g", "type": "quantitative", "scale": {"domain": [0, 80], "range": ["#7a7a7a", "#000000"], "clamp": true}, "legend": null}
 }
},
{
 "width": 554, "height": 89,
 "layer": [
  {"data": {"name": "chrB"}, "transform": [{"filter": "datum.chr % 2 === 0"}], "mark": {"type": "rect", "strokeWidth": 0},
   "encoding": {"x": {"field": "p", "type": "quantitative", "scale": {"domain": [0, 277], "nice": false, "zero": false}, "axis": null}, "x2": {"field": "p2"},
    "fill": {"value": "#e5e5e5"}}},
  {"data": {"values": [{}]}, "mark": {"type": "rule", "color": "#999999", "strokeWidth": 1.5}, "encoding": {"y": {"datum": 0, "type": "quantitative"}}},
  {"data": {"name": "recB"}, "mark": {"type": "line", "color": "#F2A516", "strokeWidth": 1.3, "interpolate": "monotone"},
   "encoding": {"x": {"field": "p", "type": "quantitative", "scale": {"domain": [0, 277], "nice": false, "zero": false}, "axis": null},
    "y": {"field": "c", "type": "quantitative", "scale": {"domain": [0, 50], "nice": false},
     "axis": {"title": ["Recombinations", "per Mb"], "values": [0, 10, 20, 30, 40, 50], "labelExpr": "datum.value % 20 === 0 ? datum.label : ''", "offset": 10, "tickSize": 5, "labelAngle": 270, "labelAlign": "center", "labelBaseline": "bottom", "labelPadding": 4, "labelFontSize": 10.5, "titleFontSize": 15.5, "titleLineHeight": 20, "titlePadding": 12, "labelOverlap": false}}}}
 ]
},
{
 "width": 554, "height": 120,
 "layer": [
  {"data": {"name": "chrB"}, "transform": [{"filter": "datum.chr % 2 === 0"}], "mark": {"type": "rect", "strokeWidth": 0},
   "encoding": {"x": {"field": "p", "type": "quantitative", "scale": {"domain": [0, 277], "nice": false, "zero": false}, "axis": {"title": null, "domain": true, "domainWidth": 2.5, "domainColor": "#000", "ticks": false, "labels": false}}, "x2": {"field": "p2"},
    "fill": {"value": "#e5e5e5"}}},
  {"data": {"name": "genesB"}, "mark": {"type": "line", "color": "#45B7C7", "strokeWidth": 1.7},
   "encoding": {"x": {"field": "p", "type": "quantitative", "scale": {"domain": [0, 277], "nice": false, "zero": false}, "axis": {"title": null, "domain": true, "domainWidth": 2.5, "domainColor": "#000", "ticks": false, "labels": false}},
    "y": {"field": "r", "type": "quantitative", "scale": {"domain": [0, 150], "range": [120, 30.7], "nice": false},
     "axis": {"title": ["Genes per Mb", "% Repeats per Mb"], "values": [0, 50, 100, 150], "offset": 10, "tickSize": 5, "labelAngle": 270, "labelAlign": "center", "labelBaseline": "bottom", "labelPadding": 4, "labelFontSize": 10.5, "titleFontSize": 15.5, "titleLineHeight": 20, "titlePadding": 12, "labelOverlap": false}}}},
  {"data": {"name": "genesB"}, "mark": {"type": "line", "color": "#1B2B85", "strokeWidth": 1.9},
   "encoding": {"x": {"field": "p", "type": "quantitative", "scale": {"domain": [0, 277], "nice": false, "zero": false}, "axis": {"title": null, "domain": true, "domainWidth": 2.5, "domainColor": "#000", "ticks": false, "labels": false}},
    "y": {"field": "g", "type": "quantitative", "scale": {"domain": [0, 150], "range": [120, 30.7], "nice": false},
     "axis": {"title": ["Genes per Mb", "% Repeats per Mb"], "values": [0, 50, 100, 150], "offset": 10, "tickSize": 5, "labelAngle": 270, "labelAlign": "center", "labelBaseline": "bottom", "labelPadding": 4, "labelFontSize": 10.5, "titleFontSize": 15.5, "titleLineHeight": 20, "titlePadding": 12, "labelOverlap": false}}}}
 ]
},
{
 "width": 554, "height": 8,
 "data": {"name": "genesB"},
 "mark": {"type": "rule", "strokeWidth": 1.3},
 "encoding": {
  "x": {"field": "p", "type": "quantitative", "scale": {"domain": [0, 277], "nice": false, "zero": false},
   "axis": {"values": [14.25, 44.25, 77.5, 111.25, 141, 169.75, 200.75, 231.5, 261.75], "labelExpr": "indexof([14.25, 44.25, 77.5, 111.25, 141, 169.75, 200.75, 231.5, 261.75], datum.value) + 10", "domain": false, "ticks": false, "labelPadding": 11, "labelFontSize": 15, "labelColor": "#111", "title": "Chromosome", "titleFont": "Lato", "titleFontSize": 17, "titleFontWeight": "normal", "titlePadding": 7, "titleX": 314, "labelOverlap": false, "labelFlush": false}},
  "y": {"datum": 0, "type": "quantitative", "scale": {"domain": [0, 8], "reverse": true, "nice": false}, "axis": null},
  "y2": {"datum": 8},
  "color": {"field": "g", "type": "quantitative", "scale": {"domain": [0, 80], "range": ["#7a7a7a", "#000000"], "clamp": true}, "legend": null}
 }
}
]
}
